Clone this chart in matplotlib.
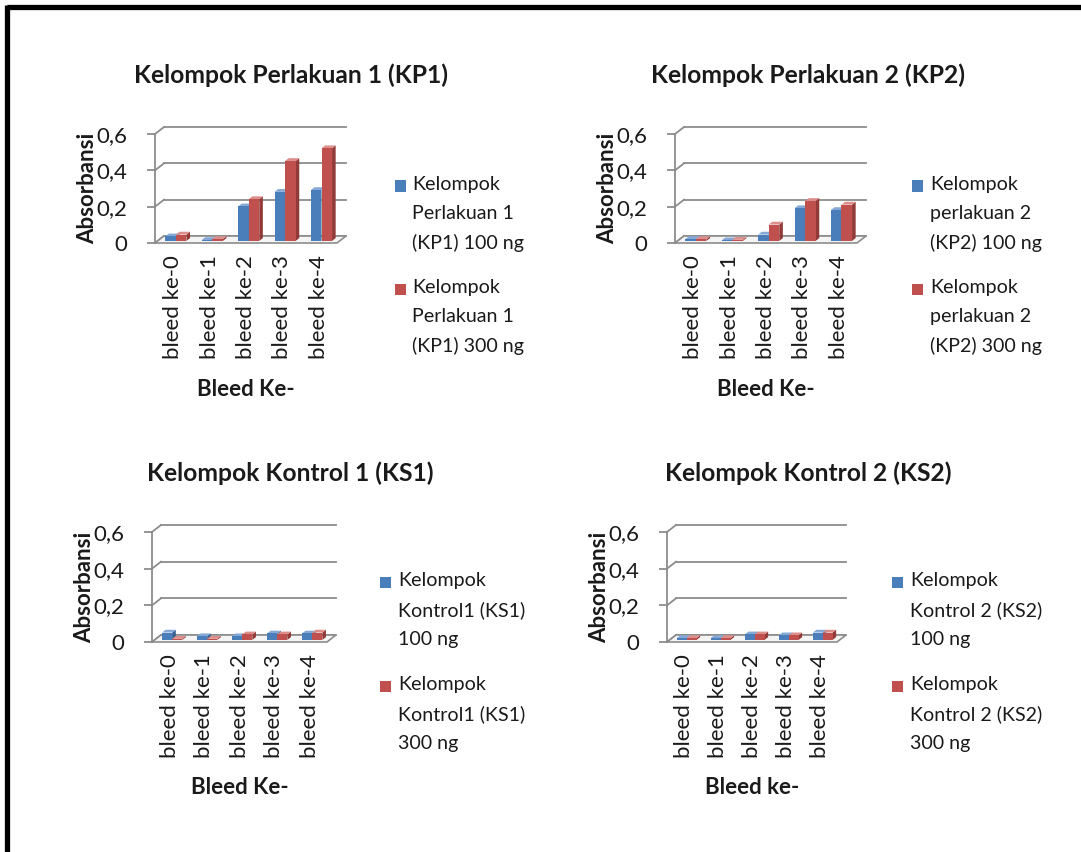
import matplotlib
matplotlib.use("Agg")
import matplotlib.pyplot as plt
from matplotlib.patches import Polygon, Rectangle
from matplotlib.lines import Line2D

plt.rcParams['font.family'] = ['Lato', 'DejaVu Sans']

W, H = 1081, 852
DPI = 100

# ---- data ----
categories = ["bleed ke-0", "bleed ke-1", "bleed ke-2", "bleed ke-3", "bleed ke-4"]
y_ticks = [0, 0.2, 0.4, 0.6]
y_tick_labels = ["0", "0,2", "0,4", "0,6"]

kp1_100 = [0.025, 0.005, 0.19, 0.27, 0.28]
kp1_300 = [0.035, 0.010, 0.23, 0.44, 0.51]

kp2_100 = [0.010, 0.003, 0.035, 0.18, 0.17]
kp2_300 = [0.010, 0.006, 0.090, 0.22, 0.20]

ks1_100 = [0.040, 0.020, 0.020, 0.035, 0.035]
ks1_300 = [0.006, 0.006, 0.030, 0.030, 0.040]

ks2_100 = [0.010, 0.010, 0.030, 0.025, 0.040]
ks2_300 = [0.010, 0.010, 0.030, 0.025, 0.040]

titles = ["Kelompok Perlakuan 1 (KP1)", "Kelompok Perlakuan 2 (KP2)",
          "Kelompok Kontrol 1 (KS1)", "Kelompok Kontrol 2 (KS2)"]
xlabels = ["Bleed Ke-", "Bleed Ke-", "Bleed Ke-", "Bleed ke-"]
legend_labels = [
    ["Kelompok\nPerlakuan 1\n(KP1) 100 ng", "Kelompok\nPerlakuan 1\n(KP1) 300 ng"],
    ["Kelompok\nperlakuan 2\n(KP2) 100 ng", "Kelompok\nperlakuan 2\n(KP2) 300 ng"],
    ["Kelompok\nKontrol1 (KS1)\n100 ng", "Kelompok\nKontrol1 (KS1)\n300 ng"],
    ["Kelompok\nKontrol 2 (KS2)\n100 ng", "Kelompok\nKontrol 2 (KS2)\n300 ng"],
]
series = [(kp1_100, kp1_300), (kp2_100, kp2_300), (ks1_100, ks1_300), (ks2_100, ks2_300)]

# ---- styling / layout (pixel positions) ----
BLUE = dict(front="#4a7ebb", side="#35608f", top="#86a8d6")
RED = dict(front="#c0504d", side="#923a37", top="#dc8e8b")
GRID = "#8c8c8c"
TXT = "#1a1a1a"

# front floor left/right x, floor y, 0.6 y, title centre x/y, legend square x, text x, legend line ys
panels = [
    dict(x0=155, x1=337, y0=243, y6=134, tx=291, ty=75, sqx=400, ltx=412, ly=(186, 289)),
    dict(x0=675, x1=857, y0=243, y6=134, tx=808, ty=75, sqx=917, ltx=930, ly=(186, 289)),
    dict(x0=152, x1=327, y0=642, y6=532, tx=290, ty=473, sqx=385, ltx=398, ly=(582, 686)),
    dict(x0=667, x1=837, y0=642, y6=532, tx=808, ty=473, sqx=897, ltx=910, ly=(582, 686)),
]

fig = plt.figure(figsize=(W / DPI, H / DPI), dpi=DPI)
fig.patch.set_facecolor("white")


def fx(px):
    return px / W


def fy(py):
    return 1 - py / H


def draw_bar(ax, x, w, bottom, h, col, bdx, bdy):
    top = bottom + h
    ax.add_patch(Polygon([(x + w, bottom), (x + w, top), (x + w + bdx, top + bdy),
                          (x + w + bdx, bottom + bdy)], closed=True,
                         facecolor=col["side"], edgecolor="none", zorder=3, clip_on=False))
    ax.add_patch(Polygon([(x, top), (x + w, top), (x + w + bdx, top + bdy), (x + bdx, top + bdy)],
                         closed=True, facecolor=col["top"], edgecolor="none", zorder=3,
                         clip_on=False))
    ax.bar(x, h, width=w, bottom=bottom, align="edge", color=col["front"],
           edgecolor="none", zorder=4, clip_on=False)


for k, p in enumerate(panels):
    ax = fig.add_axes([fx(p["x0"]), fy(p["y0"]), fx(p["x1"] - p["x0"]), (p["y0"] - p["y6"]) / H])
    ax.set_xlim(0, 5)
    ax.set_ylim(0, 0.6)
    ax.set_facecolor("none")
    ppx = (p["x1"] - p["x0"]) / 5.0
    ppy = (p["y0"] - p["y6"]) / 0.6
    DX = 9.0 / ppx
    DY = 7.0 / ppy

    for s in ["top", "right", "bottom"]:
        ax.spines[s].set_visible(False)
    ax.spines["left"].set_color(GRID)
    ax.spines["left"].set_linewidth(1.3)

    # back wall grid lines and the diagonal links to the value axis
    for v in y_ticks:
        ax.plot([DX, 5 + DX], [v + DY, v + DY], color=GRID, lw=1.3, zorder=1, clip_on=False)
        ax.plot([0, DX], [v, v + DY], color=GRID, lw=1.3, zorder=1, clip_on=False)
    # floor
    ax.add_patch(Polygon([(0, 0), (5, 0), (5 + DX, DY), (DX, DY)], closed=True,
                         facecolor="#f4f4f4", edgecolor=GRID, lw=1.2, zorder=2, clip_on=False))

    # bars
    v100, v300 = series[k]
    bw = 0.29
    f = 0.3
    bdx, bdy = 0.4 * DX, 0.4 * DY
    for i in range(len(categories)):
        c = i + 0.5 + f * DX
        draw_bar(ax, c - bw, bw, f * DY, v100[i], BLUE, bdx, bdy)
        draw_bar(ax, c, bw, f * DY, v300[i], RED, bdx, bdy)

    ax.set_yticks(y_ticks)
    ax.set_yticklabels(y_tick_labels, fontsize=16, color=TXT)
    ax.tick_params(axis="y", length=6, width=1.3, color=GRID, pad=14)
    ax.set_xticks([i + 0.5 for i in range(len(categories))])
    ax.set_xticklabels(categories, rotation=90, fontsize=16, color=TXT)
    ax.tick_params(axis="x", length=0, pad=9)

    ax.text(-67.0 / (p["x1"] - p["x0"]), 0.5, "Absorbansi",
            transform=ax.transAxes, rotation=90, ha="center", va="center",
            fontsize=16, fontweight="bold", color=TXT)
    ax.text(0.5, -146.0 / (p["y0"] - p["y6"]), xlabels[k], transform=ax.transAxes,
            ha="center", va="center", fontsize=16, fontweight="bold", color=TXT)

    fig.text(fx(p["tx"]), fy(p["ty"]), titles[k], ha="center", va="center",
             fontsize=17.7, fontweight="bold", color=TXT)

    # legend entries: square beside the first line of each label
    for j, (col, lab) in enumerate(zip([BLUE, RED], legend_labels[k])):
        ly = p["ly"][j]
        fig.patches.append(Rectangle((fx(p["sqx"] - 5.5), fy(ly + 5.5)), 11 / W, 11 / H,
                                     transform=fig.transFigure, facecolor=col["front"],
                                     edgecolor="none"))
        fig.text(fx(p["ltx"]), fy(ly - 10), lab, ha="left", va="top", fontsize=14.1,
                 color=TXT, linespacing=1.84)

# frame lines along the top and left edges
fig.add_artist(Line2D([fx(7.5), 1], [fy(6.5), fy(6.5)], transform=fig.transFigure,
                      color="black", lw=3.8, solid_capstyle="butt"))
fig.add_artist(Line2D([fx(7.5), fx(7.5)], [fy(4.6), 0], transform=fig.transFigure,
                      color="black", lw=3.8, solid_capstyle="butt"))

fig.savefig("out.png", dpi=DPI, facecolor="white")
